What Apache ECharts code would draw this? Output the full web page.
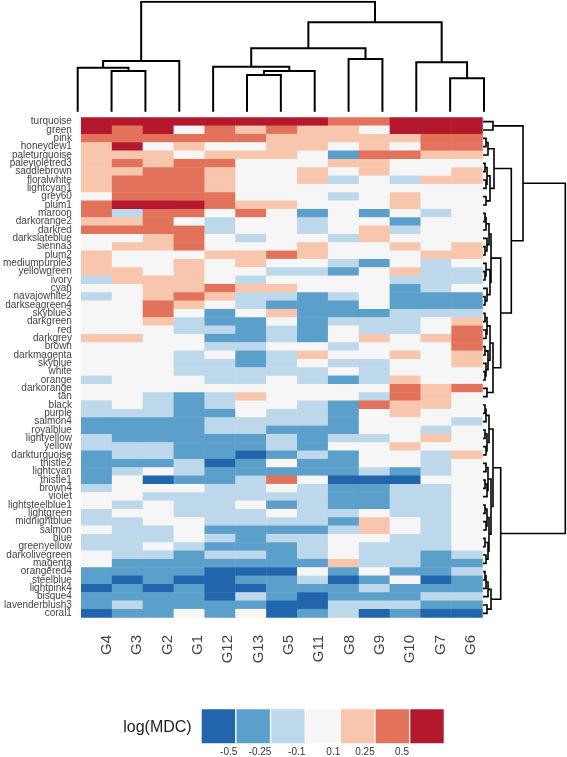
<!DOCTYPE html>
<html><head><meta charset="utf-8">
<script src="https://cdn.jsdelivr.net/npm/echarts@6/dist/echarts.min.js"></script>
<style>html,body{margin:0;padding:0;background:#fff}#c{width:567px;height:757px}</style>
</head><body><div id="c"></div>
<script>
// ---- categories ----
const COLS = ['G4','G3','G2','G1','G12','G13','G5','G11','G8','G9','G10','G7','G6'];
const ROWS = ['turquoise','green','pink','honeydew1','paleturquoise','palevioletred3','saddlebrown','floralwhite','lightcyan1','grey60',
'plum1','maroon','darkorange2','darkred','darkslateblue','sienna3','plum2','mediumpurple3','yellowgreen','ivory',
'cyan','navajowhite2','darkseagreen4','skyblue3','darkgreen','red','darkgrey','brown','darkmagenta','skyblue',
'white','orange','darkorange','tan','black','purple','salmon4','royalblue','lightyellow','yellow',
'darkturquoise','thistle2','lightcyan','thistle1','brown4','violet','lightsteelblue1','lightgreen','midnightblue','salmon',
'blue','greenyellow','darkolivegreen','magenta','orangered4','steelblue','lightpink4','bisque4','lavenderblush3','coral1'];

// ---- estimated log(MDC) per sample column (rows in ROWS order) ----
const G4 = [.6,.6,.35,.17,.17,.17,.17,.17,.17,0, .35,.35,.17,.35,0,0,.17,.17,.17,-.17, 0,-.17,0,0,0,0,.17,0,0,0, 0,-.17,0,0,-.17,-.17,-.35,-.35,-.17,-.17, -.35,-.35,-.35,-.35,-.17,0,0,-.17,-.17,0, -.17,-.17,0,0,-.35,-.35,-.6,-.35,-.35,-.6];
const G3 = [.6,.35,.35,.6,.17,.35,.17,.35,.35,.35, .6,-.17,.17,.35,0,.17,0,0,.17,.17, 0,0,0,0,0,0,.17,0,0,0, 0,0,0,0,0,-.17,-.35,-.35,-.35,-.17, -.17,-.35,-.17,0,0,0,-.17,0,-.17,-.17, -.17,-.17,-.17,-.35,-.35,-.6,-.35,-.35,-.17,-.35];
const G2 = [.6,.6,.35,0,.17,.17,.35,.35,.35,.35, .6,.35,.35,.35,.17,.17,0,0,0,.17, .17,.17,.35,.35,.17,0,0,0,0,0, 0,0,0,-.17,-.17,-.17,-.35,-.35,-.35,-.17, -.17,-.35,0,-.6,0,-.17,0,0,0,-.17, -.17,0,-.17,-.35,-.35,-.35,-.6,-.35,-.35,-.35];
const G1 = [.6,0,.35,.17,0,.35,.35,.35,.35,.35, .6,.35,0,.35,.35,.35,0,.17,.17,.17, .17,.35,.17,0,-.17,-.17,0,0,-.17,-.17, -.17,0,0,-.35,-.35,-.35,-.35,-.35,-.35,-.35, -.35,-.17,-.17,-.35,0,-.17,-.17,-.17,0,0, 0,-.17,-.35,-.35,-.35,-.6,-.35,-.35,-.35,0];
const G12 = [.6,.35,.35,0,.17,.35,.17,.17,.17,.35, .35,0,-.17,-.17,0,0,.17,0,0,0, .35,.17,0,-.35,-.35,-.17,-.35,-.17,0,-.17, -.17,-.17,0,-.17,-.17,-.35,-.17,-.17,-.35,-.35, -.35,-.6,-.35,-.35,-.17,-.17,-.17,-.17,-.17,-.35, -.17,-.35,-.17,-.35,-.6,-.6,-.6,-.6,-.35,-.35];
const G13 = [.6,.17,.35,0,.17,0,0,0,0,0, .17,.35,0,0,-.17,0,.17,.17,0,-.17, .17,-.17,-.17,0,-.35,-.35,-.35,-.17,-.35,-.35, -.17,-.17,0,.17,0,0,-.17,-.17,-.35,-.35, -.6,-.35,-.35,-.17,-.17,-.17,0,-.17,-.17,-.35, -.35,-.35,-.17,-.35,-.6,-.35,-.6,-.17,-.35,0];
const G5 = [.6,.35,.17,.17,.17,0,0,0,0,0, .17,0,0,0,0,0,.35,0,-.17,0, .17,-.17,-.35,.17,0,-.17,-.17,0,-.17,-.17, -.17,0,0,0,0,-.17,-.17,-.35,-.17,-.17, -.35,0,-.35,.35,0,-.17,-.35,0,-.17,-.35, -.17,-.35,-.35,-.35,-.6,-.35,-.35,-.35,-.6,-.6];
const G11 = [.6,.17,.17,.17,0,0,.17,.17,0,0, 0,-.35,-.17,-.17,0,.17,.17,0,-.17,0, 0,-.35,-.35,-.35,-.35,-.35,-.35,0,.17,0, -.17,-.17,0,0,-.17,-.17,-.17,-.35,-.35,-.35, -.17,-.35,-.35,0,-.17,-.17,-.17,-.17,-.17,-.35, -.17,-.17,-.17,-.35,0,-.17,-.35,-.6,-.6,-.35];
const G8 = [.35,.17,.17,0,-.35,.17,0,-.17,0,-.17, 0,0,0,0,-.17,0,0,-.17,-.35,0, 0,-.17,-.35,-.35,-.17,0,0,-.17,0,-.17, 0,-.35,0,0,-.35,-.35,-.35,-.35,-.17,0, -.35,-.35,-.35,-.6,-.35,-.35,-.35,-.17,-.35,-.17, 0,0,0,.17,-.35,-.6,-.35,-.35,-.17,-.17];
const G9 = [.35,0,.17,.17,.35,.17,.17,0,0,0, 0,-.35,0,.17,.17,0,0,-.35,0,0, 0,0,0,-.35,-.17,-.17,.17,0,0,-.17, -.17,-.17,0,-.17,.35,0,0,0,-.17,0, 0,0,-.17,-.6,-.35,-.35,-.35,0,.17,.17, 0,-.17,-.17,-.17,0,-.35,-.17,-.35,-.17,-.6];
const G10 = [.6,.6,.17,0,.35,0,0,-.17,0,.17, .17,0,-.35,-.17,0,.17,0,0,.17,-.17, -.35,-.35,-.35,-.17,-.17,-.17,0,0,.17,0, 0,.17,.35,.35,.17,.17,0,0,0,.17, 0,0,-.35,-.6,-.17,-.17,-.17,-.17,0,0, -.17,-.17,-.17,-.17,-.35,0,-.35,-.35,-.17,-.35];
const G7 = [.6,.6,.35,.35,.17,0,0,.17,0,0, 0,-.17,0,0,0,0,.17,-.17,-.17,-.17, -.17,-.35,-.35,-.17,0,0,.17,0,0,0, 0,0,.17,.17,.17,0,0,-.17,.17,0, -.17,-.17,-.17,0,-.17,-.17,-.17,-.17,-.17,-.17, -.17,-.17,-.35,-.35,-.35,-.6,-.35,-.17,-.35,-.6];
const G6 = [.6,.6,.35,.35,.17,0,.17,.17,0,0, 0,0,0,0,0,.17,.17,0,-.17,-.17, 0,-.35,-.35,-.17,.17,.35,.35,.35,.17,.17, 0,0,.35,0,0,0,-.17,0,0,0, .17,0,0,0,0,0,0,0,0,0, 0,0,-.17,-.35,-.17,-.35,-.35,-.17,-.35,-.6];
const COL_VALUES = [G4,G3,G2,G1,G12,G13,G5,G11,G8,G9,G10,G7,G6];

// ---- legend breaks / colours ----
const LEGEND_BREAKS = [-0.5, -0.25, -0.1, 0.1, 0.25, 0.5];
const LEGEND_COLORS = ['#2166ac','#5b9fcb','#bdd8ea','#f6f6f6','#f8c6ad','#e2735a','#b3182c'];

// ---- dendrograms: [height, left, right], leaves = index ----
const COL_TREE = [110, [50.7, [44, 0, [40.7, 1, 2]], 3],
  [89.4, [63.4, [45, 4, [40.7, [36.7, 5, 6], 7]], [52.7, 8, 9]], [49.4, 10, [33.4, 11, 12]]]];
const ROW_TREE = [82.3,
  [40, [10, 0, 1],
    [28.3,
      [11, [5, [3, 2, 3], 4], [7, [4, [2, 5, 6], [3, 7, 8]], [3, 9, 10]]],
      [17.7,
        [8, [6, [3, [2, 11, 12], 13], [4, 14, [2, 15, 16]]], [7, [3, 17, [2, 18, 19]], [4, 20, [2, 21, 22]]]],
        [10, [7, [4, [2, 23, 24], [3, 25, 26]], [5, [2, 27, 28], [3, 29, [2, 30, 31]]]], [4, 32, 33]]]]],
  [17.7,
    [10, [6, [3, [2, 34, 35], 36], [4, [2, 37, 38], [3, 39, 40]]],
         [8, [5, [3, 41, 42], [4, [2, 43, 44], 45]], [6, [4, [2, 46, 47], [3, 48, 49]], [5, [2, 50, 51], [3, 52, 53]]]]],
    [8, [5, [3, [2, 54, 55], 56], 57], [4, 58, 59]]]];

function treeSegs(node, out) {
  if (typeof node === 'number') return {pos: node, h: 0};
  const a = treeSegs(node[1], out), b = treeSegs(node[2], out), h = node[0];
  out.push([[a.pos, a.h], [a.pos, h], [b.pos, h], [b.pos, b.h]]);
  return {pos: (a.pos + b.pos) / 2, h: h};
}
const colSegs = []; treeSegs(COL_TREE, colSegs);
const rowSegs = []; treeSegs(ROW_TREE, rowSegs);

const heat = [];
COL_VALUES.forEach((col, ci) => col.forEach((v, ri) => heat.push([ci, ri, v])));

const FONT = 'Liberation Sans, Arial, sans-serif';
const chart = echarts.init(document.getElementById('c'), null, {renderer: 'canvas'});

const legendGraphics = [];
LEGEND_COLORS.forEach((c, i) => legendGraphics.push({
  type: 'rect', shape: {x: 201.7 + 34.77 * i, y: 709.3, width: 33.4, height: 34}, style: {fill: c}
}));
const LEG_LABEL_X = [228.7, 260, 296.7, 333.3, 365, 402];
LEGEND_BREAKS.forEach((b, i) => legendGraphics.push({
  type: 'text', x: LEG_LABEL_X[i], y: 752.5,
  style: {text: String(b), fontSize: 10, fontFamily: FONT, fill: '#333', align: 'center', verticalAlign: 'middle'}
}));
legendGraphics.push({type: 'text', x: 191.7, y: 728,
  style: {text: 'log(MDC)', fontSize: 16, fontFamily: FONT, fill: '#222', align: 'right', verticalAlign: 'middle'}});

const hidden = {show: false};
chart.setOption({
  animation: false,
  backgroundColor: '#fff',
  grid: [
    {left: 80, top: 117.5, width: 402.5, height: 500},
    {left: 77.7, top: 1.7, width: 406.3, height: 110},
    {left: 483, top: 117.5, width: 82.3, height: 500},
    {left: 91.5, top: 600, width: 394.5, height: 18.5}
  ],
  xAxis: [
    {gridIndex: 0, type: 'category', data: COLS, show: false},
    {gridIndex: 1, type: 'value', min: 0, max: 12, show: false},
    {gridIndex: 2, type: 'value', min: 0, max: 82.3, show: false},
    {gridIndex: 3, type: 'category', data: COLS, axisLine: hidden, axisTick: hidden, splitLine: hidden,
      axisLabel: {rotate: 90, margin: 16.5, fontSize: 15, color: '#444', fontFamily: FONT, interval: 0}}
  ],
  yAxis: [
    {gridIndex: 0, type: 'category', data: ROWS, inverse: true, axisLine: hidden, axisTick: hidden, splitLine: hidden,
      axisLabel: {fontSize: 10, color: '#444', margin: 9.3, interval: 0, fontFamily: FONT}},
    {gridIndex: 1, type: 'value', min: 0, max: 110, show: false},
    {gridIndex: 2, type: 'value', min: -0.5, max: 59.5, inverse: true, show: false},
    {gridIndex: 3, type: 'value', show: false}
  ],
  visualMap: {
    type: 'piecewise', show: false, dimension: 2, seriesIndex: 0,
    pieces: [
      {lt: LEGEND_BREAKS[0], color: LEGEND_COLORS[0]},
      {gte: LEGEND_BREAKS[0], lt: LEGEND_BREAKS[1], color: LEGEND_COLORS[1]},
      {gte: LEGEND_BREAKS[1], lt: LEGEND_BREAKS[2], color: LEGEND_COLORS[2]},
      {gte: LEGEND_BREAKS[2], lte: LEGEND_BREAKS[3], color: LEGEND_COLORS[3]},
      {gt: LEGEND_BREAKS[3], lte: LEGEND_BREAKS[4], color: LEGEND_COLORS[4]},
      {gt: LEGEND_BREAKS[4], lte: LEGEND_BREAKS[5], color: LEGEND_COLORS[5]},
      {gt: LEGEND_BREAKS[5], color: LEGEND_COLORS[6]}
    ]
  },
  series: [
    {type: 'heatmap', xAxisIndex: 0, yAxisIndex: 0, data: heat, itemStyle: {borderWidth: 0}, emphasis: {disabled: true}},
    {type: 'lines', coordinateSystem: 'cartesian2d', xAxisIndex: 1, yAxisIndex: 1, polyline: true, silent: true,
      data: colSegs.map(c => ({coords: c})), lineStyle: {color: '#000', width: 2, opacity: 1}},
    {type: 'lines', coordinateSystem: 'cartesian2d', xAxisIndex: 2, yAxisIndex: 2, polyline: true, silent: true,
      data: rowSegs.map(c => ({coords: c.map(p => [p[1], p[0]])})), lineStyle: {color: '#000', width: 1.6, opacity: 1}}
  ],
  graphic: legendGraphics
});
</script>
</body></html>
